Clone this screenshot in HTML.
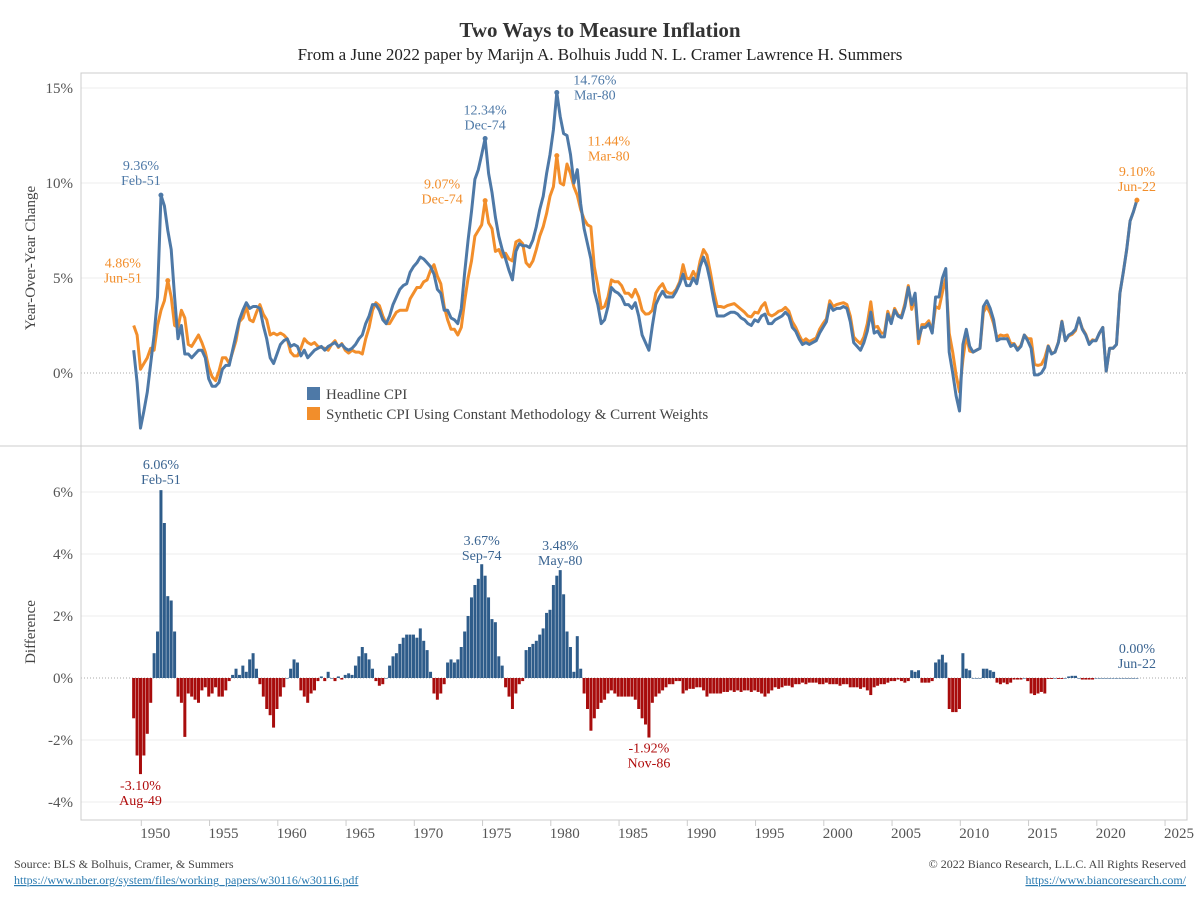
<!DOCTYPE html>
<html><head><meta charset="utf-8"><style>
body{margin:0;background:#fff;width:1200px;height:900px;overflow:hidden;font-family:"Liberation Serif",serif}
svg text{font-family:"Liberation Serif",serif}
</style></head><body>
<svg id="c" width="1200" height="900" xmlns="http://www.w3.org/2000/svg">
<text x="600" y="37" text-anchor="middle" font-size="21" font-weight="bold" fill="#333">Two Ways to Measure Inflation</text>
<text x="600" y="60" text-anchor="middle" font-size="17" fill="#222">From a June 2022 paper by Marijn A. Bolhuis Judd N. L. Cramer Lawrence H. Summers</text>
<g id="grid"></g>
<g id="bars"></g>
<g id="lines"></g>
<g id="axes"></g>
<g id="ann"></g>
<g>
<rect x="307" y="387" width="13" height="13" fill="#4e79a7"/>
<text x="326" y="399" font-size="15" fill="#444">Headline CPI</text>
<rect x="307" y="407" width="13" height="13" fill="#f28e2b"/>
<text x="326" y="419" font-size="15" fill="#444">Synthetic CPI Using Constant Methodology &amp; Current Weights</text>
</g>
<text transform="translate(35,258) rotate(-90)" text-anchor="middle" font-size="15" fill="#444">Year-Over-Year Change</text>
<text transform="translate(35,632) rotate(-90)" text-anchor="middle" font-size="15" fill="#444">Difference</text>
<text x="14" y="868" font-size="12" fill="#444">Source: BLS &amp; Bolhuis, Cramer, &amp; Summers</text>
<text x="14" y="884" font-size="12" fill="#2a7ab0" text-decoration="underline">https://www.nber.org/system/files/working_papers/w30116/w30116.pdf</text>
<text x="1186" y="868" text-anchor="end" font-size="12" fill="#444">© 2022 Bianco Research, L.L.C. All Rights Reserved</text>
<text x="1186" y="884" text-anchor="end" font-size="12" fill="#2a7ab0" text-decoration="underline">https://www.biancoresearch.com/</text>
</svg>
<script>
const startYear = 1949.0;
const stepYears = 0.25;
const headline = [
1.2,-0.5,-2.9,-2.0, -1.0,0.5,2.0,4.0, 9.36,8.8,7.5,6.5, 4.0,1.8,2.5,1.0, 1.0,0.8,1.0,1.2,
1.2,0.8,-0.3,-0.7, -0.7,-0.5,0.2,0.4, 0.4,1.2,2.0,2.8, 3.3,3.7,3.4,3.5, 3.5,3.4,2.5,1.8,
0.8,0.5,1.0,1.5, 1.7,1.8,1.4,1.5, 1.4,0.9,1.2,0.8, 1.0,1.2,1.3,1.4, 1.2,1.4,1.5,1.6,
1.4,1.5,1.3,1.2, 1.3,1.5,1.8,2.0, 2.6,3.0,3.6,3.6, 3.3,2.8,2.6,3.0, 3.6,4.0,4.4,4.6,
4.7,5.3,5.6,5.8, 6.1,6.0,5.8,5.6, 5.2,4.4,4.2,3.3, 3.3,2.9,2.8,2.6, 3.4,5.3,7.0,8.5,
10.2,10.7,11.5,12.34, 10.5,9.5,8.2,7.2, 6.5,6.0,5.4,4.9, 6.4,6.8,6.7,6.7, 6.6,7.0,7.7,8.6,
9.3,10.5,11.5,12.8, 14.76,13.5,12.6,12.5, 11.5,10.0,10.7,8.9, 7.6,6.8,6.0,4.3, 3.6,2.6,2.8,3.5,
4.5,4.3,4.2,4.0, 3.6,3.6,3.4,3.7, 3.0,2.0,1.6,1.2, 2.5,3.6,4.0,4.3, 4.0,4.0,4.0,4.3,
4.7,5.2,4.6,4.6, 5.0,4.7,5.6,6.1, 5.6,4.8,3.8,3.0, 3.0,3.0,3.1,3.2, 3.2,3.1,2.9,2.8,
2.6,2.5,2.8,2.7, 3.0,3.1,2.6,2.6, 2.8,2.9,3.0,3.2, 3.0,2.4,2.2,1.8, 1.5,1.6,1.5,1.6,
1.7,2.1,2.4,2.7, 3.6,3.3,3.4,3.4, 3.5,3.4,2.7,1.6, 1.4,1.2,1.6,2.2, 3.2,2.1,2.2,1.9,
1.9,3.1,2.6,3.3, 3.0,2.9,3.5,4.5, 3.6,4.2,1.8,2.4, 2.4,2.6,2.1,4.0, 4.0,5.0,5.5,1.1,
0.0,-1.2,-2.0,1.5, 2.3,1.4,1.1,1.2, 1.3,3.5,3.8,3.4, 2.8,1.7,1.8,1.8, 1.8,1.4,1.5,1.2,
1.4,2.0,1.7,1.3, -0.1,-0.1,0.0,0.3, 1.4,1.0,1.1,1.6, 2.7,1.7,2.0,2.1, 2.3,2.9,2.3,2.0,
1.5,1.7,1.7,2.1, 2.4,0.1,1.3,1.3, 1.5,4.2,5.3,6.5, 8.0,8.5,9.1];
const synthetic = [
2.5,2.0,0.2,0.5, 0.8,1.3,1.2,2.5, 3.3,3.8,4.86,4.0, 2.5,2.4,3.3,2.9, 1.5,1.4,1.7,2.0,
1.6,1.1,0.3,-0.2, -0.4,0.1,0.8,0.8, 0.5,1.1,1.7,2.7, 2.9,3.5,2.8,2.7, 3.2,3.6,3.1,2.8,
2.0,2.1,2.0,2.1, 2.0,1.8,1.1,0.9, 0.9,1.3,1.8,1.6, 1.5,1.6,1.4,1.35, 1.3,1.2,1.5,1.7,
1.35,1.55,1.2,1.05, 1.2,1.1,1.1,1.0, 1.8,2.4,3.3,3.7, 3.55,3.0,2.6,2.6, 2.9,3.2,3.3,3.3,
3.3,3.9,4.2,4.5, 4.5,4.8,4.9,5.4, 5.7,5.1,4.7,3.5, 2.8,2.3,2.3,2.0, 2.4,3.8,5.0,5.9,
7.2,7.5,7.8,9.07, 7.9,7.6,6.4,6.5, 6.1,6.3,6.0,5.9, 6.9,7.0,6.8,5.8, 5.6,5.9,6.5,7.2,
7.7,8.4,9.3,9.8, 11.44,10.0,9.9,11.0, 10.5,9.8,9.35,8.6, 8.1,7.8,7.7,5.6, 4.6,3.4,3.5,4.0,
4.9,4.8,4.8,4.6, 4.2,4.2,4.0,4.4, 4.0,3.3,3.1,3.12, 3.3,4.2,4.5,4.7, 4.3,4.2,4.2,4.4,
4.8,5.7,5.0,4.95, 5.35,5.0,5.9,6.5, 6.2,5.3,4.3,3.5, 3.5,3.45,3.55,3.6, 3.65,3.5,3.35,3.2,
3.0,2.95,3.2,3.15, 3.5,3.7,3.1,3.0, 3.1,3.25,3.3,3.45, 3.25,2.7,2.4,2.0, 1.65,1.8,1.65,1.75,
1.85,2.3,2.6,2.85, 3.8,3.5,3.6,3.65, 3.7,3.6,3.0,1.9, 1.7,1.55,1.9,2.6, 3.75,2.4,2.45,2.1,
2.1,3.25,2.7,3.4, 3.05,3.0,3.65,4.6, 3.35,4.0,1.55,2.55, 2.55,2.75,2.2,3.5, 3.4,4.25,5.0,2.1,
1.1,-0.1,-1.0,0.7, 2.0,1.15,1.1,1.2, 1.3,3.2,3.5,3.15, 2.6,1.85,2.0,1.95, 2.0,1.55,1.55,1.25,
1.45,2.0,1.8,1.8, 0.45,0.4,0.45,0.8, 1.43,1.03,1.1,1.63, 2.73,1.7,1.95,2.03, 2.23,2.9,2.35,2.05,
1.55,1.75,1.7,2.1, 2.4,0.1,1.3,1.3, 1.5,4.2,5.3,6.5, 8.0,8.5,9.1];
const difference = [
-1.3,-2.5,-3.1,-2.5, -1.8,-0.8,0.8,1.5, 6.06,5.0,2.64,2.5, 1.5,-0.6,-0.8,-1.9, -0.5,-0.6,-0.7,-0.8,
-0.4,-0.3,-0.6,-0.5, -0.3,-0.6,-0.6,-0.4, -0.1,0.1,0.3,0.1, 0.4,0.2,0.6,0.8, 0.3,-0.2,-0.6,-1.0,
-1.2,-1.6,-1.0,-0.6, -0.3,0.0,0.3,0.6, 0.5,-0.4,-0.6,-0.8, -0.5,-0.4,-0.1,0.05, -0.1,0.2,0.0,-0.1,
0.05,-0.05,0.1,0.15, 0.1,0.4,0.7,1.0, 0.8,0.6,0.3,-0.1, -0.25,-0.2,0.0,0.4, 0.7,0.8,1.1,1.3,
1.4,1.4,1.4,1.3, 1.6,1.2,0.9,0.2, -0.5,-0.7,-0.5,-0.2, 0.5,0.6,0.5,0.6, 1.0,1.5,2.0,2.6,
3.0,3.2,3.67,3.3, 2.6,1.9,1.8,0.7, 0.4,-0.3,-0.6,-1.0, -0.5,-0.2,-0.1,0.9, 1.0,1.1,1.2,1.4,
1.6,2.1,2.2,3.0, 3.3,3.48,2.7,1.5, 1.0,0.2,1.35,0.3, -0.5,-1.0,-1.7,-1.3, -1.0,-0.8,-0.7,-0.5,
-0.4,-0.5,-0.6,-0.6, -0.6,-0.6,-0.6,-0.7, -1.0,-1.3,-1.5,-1.92, -0.8,-0.6,-0.5,-0.4, -0.3,-0.2,-0.2,-0.1,
-0.1,-0.5,-0.4,-0.35, -0.35,-0.3,-0.3,-0.4, -0.6,-0.5,-0.5,-0.5, -0.5,-0.45,-0.45,-0.4, -0.45,-0.4,-0.45,-0.4,
-0.4,-0.45,-0.4,-0.45, -0.5,-0.6,-0.5,-0.4, -0.3,-0.35,-0.3,-0.25, -0.25,-0.3,-0.2,-0.2, -0.15,-0.2,-0.15,-0.15,
-0.15,-0.2,-0.2,-0.15, -0.2,-0.2,-0.2,-0.25, -0.2,-0.2,-0.3,-0.3, -0.3,-0.35,-0.3,-0.4, -0.55,-0.3,-0.25,-0.2,
-0.2,-0.15,-0.1,-0.1, -0.05,-0.1,-0.15,-0.1, 0.25,0.2,0.25,-0.15, -0.15,-0.15,-0.1,0.5, 0.6,0.75,0.5,-1.0,
-1.1,-1.1,-1.0,0.8, 0.3,0.25,0.0,0.0, 0.0,0.3,0.3,0.25, 0.2,-0.15,-0.2,-0.15, -0.2,-0.15,-0.05,-0.05,
-0.05,0.0,-0.1,-0.5, -0.55,-0.5,-0.45,-0.5, -0.03,-0.03,0.0,-0.03, -0.03,0.0,0.05,0.07, 0.07,0.0,-0.05,-0.05,
-0.05,-0.05,0.0,0.0, 0.0,0.0,0.0,0.0, 0.0,0.0,0.0,0.0, 0.0,0.0,0.0];
const topTicks = [0,5,10,15];
const topTickLabels = ["0%","5%","10%","15%"];
const botTicks = [-4,-2,0,2,4,6];
const botTickLabels = ["-4%","-2%","0%","2%","4%","6%"];
const xTicks = [1950,1955,1960,1965,1970,1975,1980,1985,1990,1995,2000,2005,2010,2015,2020,2025];
const topNotes = [
 {y:1951.0,v:9.36,t:"9.36%",d:"Feb-51",c:"#4e79a7",dx:-20,dy:-10},
 {y:1951.5,v:4.86,t:"4.86%",d:"Jun-51",c:"#f28e2b",dx:-45,dy:2},
 {y:1974.75,v:9.07,t:"9.07%",d:"Dec-74",c:"#f28e2b",dx:-43,dy:3},
 {y:1974.75,v:12.34,t:"12.34%",d:"Dec-74",c:"#4e79a7",dx:0,dy:-9},
 {y:1980.0,v:14.76,t:"14.76%",d:"Mar-80",c:"#4e79a7",dx:38,dy:7},
 {y:1980.0,v:11.44,t:"11.44%",d:"Mar-80",c:"#f28e2b",dx:52,dy:5},
 {y:2022.5,v:9.1,t:"9.10%",d:"Jun-22",c:"#f28e2b",dx:0,dy:-9}];
const botNotes = [
 {y:1951.0,v:6.06,t:"6.06%",d:"Feb-51",c:"#3a6491",dx:0,dy:-21,below:false},
 {y:1949.5,v:-3.1,t:"-3.10%",d:"Aug-49",c:"#b00c0c",dx:0,dy:2,below:true},
 {y:1974.5,v:3.67,t:"3.67%",d:"Sep-74",c:"#3a6491",dx:0,dy:-19,below:false},
 {y:1980.25,v:3.48,t:"3.48%",d:"May-80",c:"#3a6491",dx:0,dy:-20,below:false},
 {y:1986.75,v:-1.92,t:"-1.92%",d:"Nov-86",c:"#b00c0c",dx:0,dy:1,below:true},
 {y:2022.5,v:0.0,t:"0.00%",d:"Jun-22",c:"#3a6491",dx:0,dy:-25,below:false}];

const NS="http://www.w3.org/2000/svg";
const L=81,R=1187,T1=73,B1=446,B2=820;
const xs=yr=>147.3+(yr-1950)*13.65;
const yT=v=>373-v*19;
const yB=v=>678-v*31;
function mk(tag,attrs,parent){const e=document.createElementNS(NS,tag);for(const k in attrs)e.setAttribute(k,attrs[k]);parent.appendChild(e);return e;}
const grid=document.getElementById('grid'),axes=document.getElementById('axes'),bars=document.getElementById('bars'),lines=document.getElementById('lines'),ann=document.getElementById('ann');

topTicks.forEach((v,i)=>{
 const g=mk('line',{x1:L,x2:R,y1:yT(v),y2:yT(v),stroke:v===0?'#aaa':'#ececec','stroke-width':1},grid);
 if(v===0)g.setAttribute('stroke-dasharray','1,2');
 
 
 const t=mk('text',{x:73,y:yT(v)+5,'text-anchor':'end','font-size':15,fill:'#555'},axes);t.textContent=topTickLabels[i];
 
 
});
botTicks.forEach((v,i)=>{
 const g=mk('line',{x1:L,x2:R,y1:yB(v),y2:yB(v),stroke:v===0?'#aaa':'#ececec','stroke-width':1},grid);
 if(v===0)g.setAttribute('stroke-dasharray','1,2');
 
 
 const t=mk('text',{x:73,y:yB(v)+5,'text-anchor':'end','font-size':15,fill:'#555'},axes);t.textContent=botTickLabels[i];
 
 
});
xTicks.forEach(yr=>{
 const t=mk('text',{x:xs(yr)+8,y:838,'text-anchor':'middle','font-size':15,fill:'#555'},axes);t.textContent=yr;
 
 
 const k=mk('line',{x1:xs(yr)-6,x2:xs(yr)-6,y1:B2,y2:B2+6,stroke:'#ccc'},axes);
 
 
});
const fr=mk('rect',{x:L,y:T1,width:R-L,height:B2-T1,fill:'none',stroke:'#ccc'},axes);


const dv=mk('line',{x1:0,x2:R,y1:B1,y2:B1,stroke:'#ccc'},axes);



difference.forEach((v,i)=>{
 const yr=startYear+i*stepYears,x=xs(yr);
 const y0=yB(0),y1=yB(v);
 const b=mk('rect',{x:x-1.5,y:Math.min(y0,y1),width:3.0,height:Math.max(Math.abs(y1-y0),0.6),fill:v>=0?'#2e5c8a':'#a80c0c'},bars);
 
 
});
function path(arr){return arr.map((v,i)=>(i?'L':'M')+xs(startYear+i*stepYears).toFixed(1)+','+yT(v).toFixed(1)).join('');}
const ps=mk('path',{d:path(synthetic),fill:'none',stroke:'#f28e2b','stroke-width':3,'stroke-linejoin':'round'},lines);


const ph=mk('path',{d:path(headline),fill:'none',stroke:'#4e79a7','stroke-width':3,'stroke-linejoin':'round'},lines);



topNotes.forEach(n=>{
 const x=xs(n.y),y=yT(n.v);
 const d=mk('circle',{cx:x,cy:y,r:2.5,fill:n.c},ann);
 
 
 const t1=mk('text',{x:x+n.dx,y:y+n.dy-15,'text-anchor':'middle','font-size':14,fill:n.c},ann);t1.textContent=n.t;
 
 
 const t2=mk('text',{x:x+n.dx,y:y+n.dy,'text-anchor':'middle','font-size':14,fill:n.c},ann);t2.textContent=n.d;
 
 
});
botNotes.forEach(n=>{
 const x=xs(n.y),y=yB(n.v);
 const base=n.below?y+n.dy+14:y+n.dy;
 const t1=mk('text',{x:x+n.dx,y:base,'text-anchor':'middle','font-size':14,fill:n.c},ann);t1.textContent=n.t;
 
 
 const t2=mk('text',{x:x+n.dx,y:base+15,'text-anchor':'middle','font-size':14,fill:n.c},ann);t2.textContent=n.d;
 
 
});
</script>
</body></html>
